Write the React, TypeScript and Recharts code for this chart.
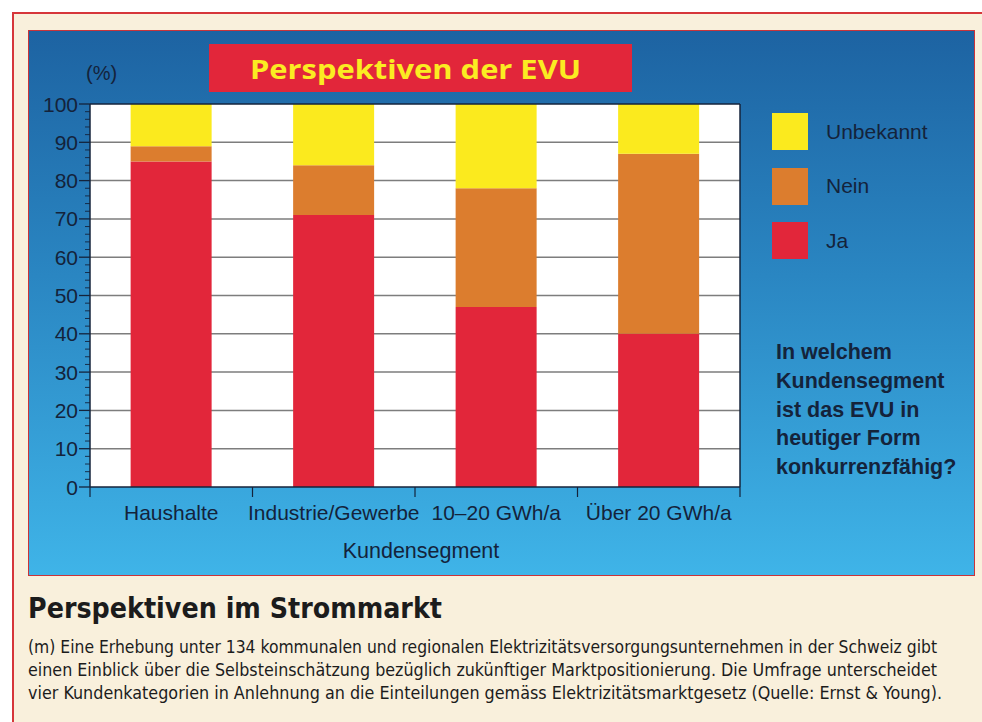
import React from 'react';
import { BarChart, Bar, XAxis, YAxis, CartesianGrid, ReferenceLine, Legend } from 'recharts';

const categories = ['Haushalte', 'Industrie/Gewerbe', '10–20 GWh/a', 'Über 20 GWh/a'];
const ja = [85, 71, 47, 40];
const nein = [4, 13, 31, 47];
const unbekannt = [11, 16, 22, 13];
const seriesNames = ['Ja', 'Nein', 'Unbekannt'];
const seriesColors = ['#e2263a', '#dc7d2e', '#fbea1e'];
const yTicks = [0, 2, 4, 6, 8, 10, 12, 14, 16, 18, 20, 22, 24, 26, 28, 30, 32, 34, 36, 38, 40, 42, 44, 46, 48, 50, 52, 54, 56, 58, 60, 62, 64, 66, 68, 70, 72, 74, 76, 78, 80, 82, 84, 86, 88, 90, 92, 94, 96, 98, 100];
const majorTicks = [0, 10, 20, 30, 40, 50, 60, 70, 80, 90, 100];
const gridValues = [10, 20, 30, 40, 50, 60, 70, 80, 90];
const chartTitle = 'Perspektiven der EVU';
const unitLabel = '(%)';
const xAxisTitle = 'Kundensegment';
const questionLines = ['In welchem', 'Kundensegment', 'ist das EVU in', 'heutiger Form', 'konkurrenzfähig?'];
const heading = 'Perspektiven im Strommarkt';
const paragraphLines = [
  '(m) Eine Erhebung unter 134 kommunalen und regionalen Elektrizitätsversorgungsunternehmen in der Schweiz gibt',
  'einen Einblick über die Selbsteinschätzung bezüglich zukünftiger Marktpositionierung. Die Umfrage unterscheidet',
  'vier Kundenkategorien in Anlehnung an die Einteilungen gemäss Elektrizitätsmarktgesetz (Quelle: Ernst & Young).',
];
const paragraphWidths = [909, 909, 914];

const data = categories.map((c, i) => ({ name: c, ja: ja[i], nein: nein[i], unbekannt: unbekannt[i] }));
const keys = ['ja', 'nein', 'unbekannt'];

const NAVY = '#14233b';
const SANS = "'Liberation Sans', Arial, Helvetica, sans-serif";
const COND = "'DejaVu Sans Condensed', 'DejaVu Sans', sans-serif";

const XTick = (props: any) => {
  const { x, y, payload } = props;
  const off = payload && typeof payload.offset === 'number' && payload.offset > 0 ? payload.offset : 81.25;
  const isLast = payload.value === categories[categories.length - 1];
  return (
    <g>
      <line x1={x - off} x2={x - off} y1={y} y2={y + 10} stroke={NAVY} strokeWidth={1.2} />
      {isLast && <line x1={x + off} x2={x + off} y1={y} y2={y + 10} stroke={NAVY} strokeWidth={1.2} />}
      <text x={x} y={y + 33} textAnchor="middle" fontFamily={SANS} fontSize={21} fill={NAVY}>
        {payload.value}
      </text>
    </g>
  );
};

const YTick = (props: any) => {
  const { x, y, payload } = props;
  const major = majorTicks.indexOf(payload.value) >= 0;
  return (
    <g>
      <line x1={x - (major ? 11 : 5)} x2={x} y1={y} y2={y} stroke={NAVY} strokeWidth={major ? 1.3 : 0.9} />
      {major && (
        <text x={x - 12} y={y + 7.5} textAnchor="end" fontFamily={SANS} fontSize={21} fill={NAVY}>
          {payload.value}
        </text>
      )}
    </g>
  );
};

const LegendContent = (props: any) => {
  const payload = (props.payload || []).slice().reverse();
  return (
    <div style={{ position: 'relative' }}>
      {payload.map((p: any, i: number) => (
        <div key={i} style={{ position: 'absolute', left: 0, top: i * 54.5, height: 37, display: 'flex', alignItems: 'center' }}>
          <div style={{ width: 36, height: 37, background: p.color }} />
          <span style={{ marginLeft: 18, fontFamily: SANS, fontSize: 21, color: NAVY, whiteSpace: 'nowrap' }}>{p.value}</span>
        </div>
      ))}
    </div>
  );
};

export default function App() {
  return (
    <div style={{ position: 'absolute', left: 0, top: 0, width: 982, height: 722, background: '#ffffff', overflow: 'hidden' }}>
      <div style={{ position: 'absolute', left: 12, top: 12, width: 990, height: 730, background: '#f9f0dc', borderLeft: '2px solid #d6363a', borderTop: '2px solid #d6363a' }} />
      <div
        style={{
          position: 'absolute',
          left: 28,
          top: 30,
          width: 945,
          height: 544,
          background: 'linear-gradient(to bottom, #1d63a2 0%, #2a86c2 45%, #3fb4e8 100%)',
          border: '1.5px solid #c9343a',
        }}
      />
      <div style={{ position: 'absolute', left: 0, top: 0 }}>
        <BarChart width={982} height={722} data={data} margin={{ top: 104, right: 241, bottom: 175, left: 30 }} barCategoryGap="25%">
          <CartesianGrid vertical={false} horizontalValues={gridValues} stroke="#7d7d7d" strokeWidth={1.5} fill="#ffffff" fillOpacity={1} />
          <XAxis
            dataKey="name"
            height={60}
            axisLine={{ stroke: NAVY, strokeWidth: 1.5 }}
            tickLine={false}
            tickSize={0}
            tickMargin={0}
            interval={0}
            tick={<XTick />}
          />
          <YAxis
            width={60}
            domain={[0, 100]}
            ticks={yTicks}
            interval={0}
            axisLine={{ stroke: NAVY, strokeWidth: 1.5 }}
            tickLine={false}
            tickSize={0}
            tickMargin={0}
            tick={<YTick />}
          />
          <YAxis yAxisId="r" orientation="right" width={1} domain={[0, 100]} tick={false} tickLine={false} axisLine={{ stroke: NAVY, strokeWidth: 1.5 }} />
          <ReferenceLine y={100} stroke={NAVY} strokeWidth={1.5} />
          {keys.map((k, i) => (
            <Bar key={k} dataKey={k} name={seriesNames[i]} stackId="a" fill={seriesColors[i]} isAnimationActive={false} />
          ))}
          <Legend layout="vertical" align="center" verticalAlign="middle" content={<LegendContent />} wrapperStyle={{ position: 'absolute', left: 772, top: 113, width: 200, height: 200 }} />
        </BarChart>
      </div>
      <svg width={982} height={722} style={{ position: 'absolute', left: 0, top: 0, pointerEvents: 'none' }}>
        <rect x={209} y={44} width={423} height={48} fill="#e2263a" />
        <text x={250} y={79} fontFamily="'Open Sans', 'Noto Sans', sans-serif" fontWeight={700} fontSize={27} fill="#fbec22" textLength={331} lengthAdjust="spacingAndGlyphs">
          {chartTitle}
        </text>
        <text x={86} y={80} fontFamily={SANS} fontSize={20} fill={NAVY}>
          {unitLabel}
        </text>
        <text x={421} y={558} textAnchor="middle" fontFamily={SANS} fontSize={21.5} fill={NAVY}>
          {xAxisTitle}
        </text>
        {questionLines.map((l, i) => (
          <text key={i} x={776} y={359 + i * 28.8} fontFamily={SANS} fontWeight={700} fontSize={21.5} fill={NAVY}>
            {l}
          </text>
        ))}
        <text x={28} y={618} fontFamily={COND} fontStretch="condensed" fontWeight={700} fontSize={29} fill="#1c1c1c" textLength={414} lengthAdjust="spacingAndGlyphs">
          {heading}
        </text>
        {paragraphLines.map((l, i) => (
          <text key={i} x={28} y={653 + i * 23} fontFamily={COND} fontStretch="condensed" fontSize={17} fill="#1c1c1c" textLength={paragraphWidths[i]} lengthAdjust="spacingAndGlyphs">
            {l}
          </text>
        ))}
      </svg>
    </div>
  );
}
